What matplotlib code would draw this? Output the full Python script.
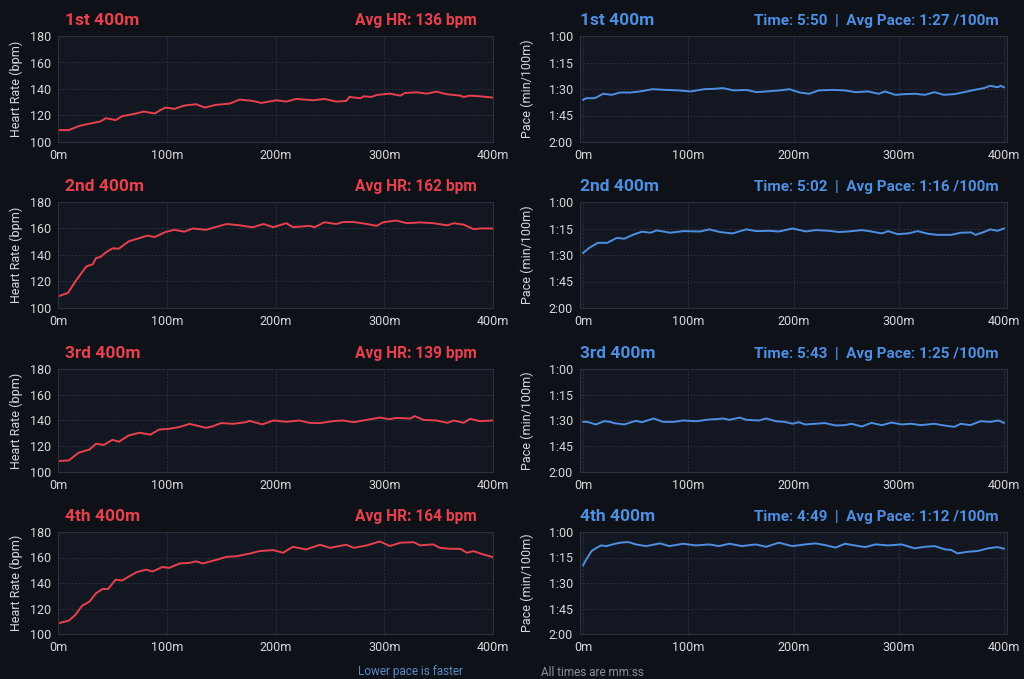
import matplotlib
matplotlib.use("Agg")
import matplotlib.pyplot as plt
from matplotlib.ticker import FuncFormatter

# heart rate (bpm) against distance (m), one pair per 400m rep
hr_dist_1 = [0, 10, 19, 30, 39, 44, 53, 59, 69, 79, 89, 95, 99, 107, 116, 127, 135, 145, 158, 167, 179, 187, 201, 210,
             219, 235, 245, 256, 265, 268, 278, 281, 288, 293, 305, 315, 319, 330, 339, 348, 358, 370, 373, 379, 388, 400]
hr_1 = [109, 109, 112, 114, 115.5, 118, 116.5, 119.5, 121, 123, 121.5, 124.5, 126, 125, 127.5, 128.5, 126, 128, 129,
        132, 131, 129.5, 131.5, 130.5, 132.5, 131.5, 132.5, 130.5, 131, 134, 133, 134.5, 134, 135.5, 136.5, 135, 137,
        137.5, 136.5, 138, 136, 135, 134, 135, 134.5, 133.5]

hr_dist_2 = [0, 9, 16, 26, 32, 35, 39, 44, 50, 56, 65, 75, 82, 89, 99, 107, 116, 124, 136, 142, 155, 167, 179, 189,
             198, 210, 216, 231, 236, 245, 256, 262, 272, 284, 293, 299, 311, 321, 333, 345, 358, 364, 373, 382, 391, 400]
hr_2 = [108.8, 111.3, 120, 131.4, 133, 137.7, 138.5, 142, 145, 144.8, 150.3, 152.8, 154.6, 153.6, 157.4, 159, 157.6,
        160, 159, 160.4, 163.4, 162.4, 160.9, 163.4, 161, 164, 161, 162, 161, 164.7, 163.4, 164.9, 164.9, 163.4, 162,
        164.7, 166, 164, 164.6, 164, 162.4, 164, 162.9, 159.6, 160.1, 160]

hr_dist_3 = [0, 10, 19, 29, 35, 42, 50, 56, 65, 75, 85, 93, 102, 112, 121, 136, 142, 150, 161, 173, 176, 188, 198, 210,
             222, 231, 241, 253, 262, 272, 284, 296, 305, 311, 324, 328, 336, 348, 358, 364, 373, 379, 388, 400]
hr_3 = [108.5, 109, 115, 117.5, 122, 121, 125, 123.5, 128.4, 130.5, 129, 133, 133.5, 135, 137.4, 134.3, 135.4, 138,
        137.4, 138.7, 139.7, 137, 140, 139, 140, 138.2, 138, 139.5, 140, 138.7, 140.5, 142.3, 141, 142, 141.5, 143.4,
        140.5, 140, 138.2, 140, 138.2, 141.3, 139.5, 140]

hr_dist_4 = [0, 10, 16, 22, 29, 35, 41, 46, 53, 59, 72, 81, 87, 96, 102, 112, 121, 127, 133, 145, 155, 164, 176, 185,
             198, 207, 216, 228, 241, 250, 265, 272, 284, 296, 305, 315, 327, 333, 345, 351, 361, 370, 376, 382, 391, 400]
hr_4 = [108.4, 110.5, 115, 122, 125.5, 132, 135.3, 135.3, 142.6, 142, 148.4, 150.5, 149, 152.6, 151.8, 155.3, 155.8,
        157, 155.3, 158, 160.5, 161, 163, 165, 165.8, 163.7, 168.4, 166.3, 170, 167.6, 170, 167.6, 169.5, 172.6, 169,
        171.6, 172, 169.5, 170.3, 167.6, 166.8, 166.8, 163.7, 165, 162.4, 160.3]

# pace (seconds per 100m) against distance (m)
pace_dist_1 = [0, 3, 11, 19, 27, 35, 45, 54, 66, 79, 91, 102, 115, 124, 133, 143, 155, 165, 174, 187, 196, 206, 215,
               224, 237, 249, 259, 271, 281, 287, 297, 306, 315, 325, 334, 343, 353, 362, 372, 381, 387, 394, 397, 400]
pace_1 = [96.1, 95.2, 95.2, 92.7, 93.3, 92, 92, 91.4, 90.1, 90.5, 90.8, 91.4, 90.1, 89.9, 89.5, 90.8, 90.5, 91.8, 91.4,
          90.8, 90.1, 92, 92.7, 90.8, 90.5, 90.8, 91.8, 91.4, 92.7, 91.4, 93.3, 92.9, 92.7, 93.3, 91.8, 93.3, 92.9,
          91.8, 90.5, 89.5, 88.2, 89, 88.2, 89]

pace_dist_2 = [0, 6, 14, 23, 32, 39, 48, 56, 64, 70, 83, 95, 111, 120, 130, 142, 155, 165, 177, 186, 199, 212, 221,
               234, 243, 252, 265, 274, 284, 290, 299, 309, 318, 328, 337, 350, 359, 369, 373, 381, 387, 394, 400]
pace_2 = [88.8, 85.9, 83.1, 83.1, 80.3, 80.8, 78.4, 76.8, 77.4, 76.1, 77.4, 76.5, 76.7, 75.5, 77, 77.8, 75.5, 76.5,
          76.3, 76.7, 75, 76.7, 75.9, 76.3, 77, 76.7, 75.9, 76.7, 77.8, 76.5, 78.2, 77.8, 76.5, 78, 78.6, 78.6, 77.4,
          77.2, 78.6, 77, 75.5, 76.3, 75]

pace_dist_3 = [0, 4, 12, 20, 26, 29, 39, 50, 56, 67, 76, 86, 95, 108, 120, 127, 133, 139, 149, 155, 167, 174, 183,
               192, 199, 205, 211, 221, 230, 240, 249, 255, 265, 274, 284, 293, 303, 312, 321, 334, 343, 353, 359, 368,
               378, 387, 395, 400]
pace_3 = [90.8, 90.8, 92.3, 90.4, 90.8, 91.5, 92.3, 90.2, 91, 88.8, 90.8, 90.8, 90, 90.4, 89.4, 89.2, 88.8, 89.6,
          88.3, 89.6, 90, 88.8, 90.4, 90.8, 91.9, 91, 92.3, 91.9, 91.5, 92.9, 92.7, 91.9, 93.5, 91.4, 92.7, 91.2, 92.3,
          91.9, 92.7, 91.9, 92.9, 93.7, 91.9, 92.7, 90.4, 90.8, 90, 91.4]

pace_dist_4 = [0, 3, 8, 13, 17, 22, 28, 35, 43, 50, 60, 73, 82, 95, 107, 120, 129, 139, 151, 164, 174, 186, 199, 211,
               221, 230, 240, 249, 262, 268, 278, 290, 303, 315, 325, 334, 344, 350, 356, 366, 375, 385, 394, 400]
pace_4 = [79.5, 76.1, 71.2, 69.2, 67.9, 68.3, 67.3, 66.3, 65.9, 67.3, 68.3, 66.7, 68.3, 66.9, 67.9, 67.3, 68.3, 66.9,
          68.3, 67.3, 68.7, 66.3, 68.3, 67.3, 66.7, 67.7, 69.2, 66.9, 68.3, 68.9, 67.3, 67.9, 67.3, 69.6, 68.7, 68.3,
          70.2, 70.6, 72.6, 71.6, 71.2, 69.6, 68.9, 69.8]

rep_names = ["1st 400m", "2nd 400m", "3rd 400m", "4th 400m"]
avg_hr = [136, 162, 139, 164]
rep_times = ["5:50", "5:02", "5:43", "4:49"]
avg_paces = ["1:27", "1:16", "1:25", "1:12"]

hr_ticks = [100, 120, 140, 160, 180]
pace_ticks = [60, 75, 90, 105, 120]
dist_ticks = [0, 100, 200, 300, 400]

BG = "#0e1117"
FACE = "#131722"
RED = "#e8414d"
BLUE = "#4d8fe3"
TEXT = "#d6d8dc"


def mmss(value, pos=None):
  return f"{int(value // 60)}:{int(round(value % 60)):02d}"


def style_axes(axes):
  axes.set_facecolor(FACE)
  for spine in axes.spines.values():
    spine.set_color("#2b303a")
    spine.set_linewidth(0.8)
  axes.grid(True, color="#3a404c", linestyle=(0, (2, 2)), linewidth=0.6, alpha=0.8)
  axes.tick_params(colors=TEXT, labelsize=9, length=0, pad=5)
  axes.set_xticks(dist_ticks)
  axes.set_xticklabels([f"{d}m" for d in dist_ticks])


def main():
  plt.rcParams["font.family"] = ["Roboto", "DejaVu Sans"]
  figure = plt.figure(figsize=(10.24, 6.79), dpi=100, facecolor=BG)
  W, H = 1024, 679

  hr_series = [(hr_dist_1, hr_1), (hr_dist_2, hr_2), (hr_dist_3, hr_3), (hr_dist_4, hr_4)]
  pace_series = [(pace_dist_1, pace_1), (pace_dist_2, pace_2), (pace_dist_3, pace_3), (pace_dist_4, pace_4)]
  rows = [(36, 142), (202, 308), (369, 472), (532, 634)]

  for i, (top, bottom) in enumerate(rows):
    # heart rate panel
    ax_hr = figure.add_axes([58 / W, 1 - bottom / H, 435 / W, (bottom - top) / H])
    style_axes(ax_hr)
    ax_hr.plot(hr_series[i][0], hr_series[i][1], color=RED, linewidth=1.4)
    ax_hr.set_xlim(0, 400)
    ax_hr.set_ylim(100, 180)
    ax_hr.set_yticks(hr_ticks)
    ax_hr.set_ylabel("Heart Rate (bpm)", color=TEXT, fontsize=9)
    ax_hr.yaxis.set_label_coords(-0.08, 0.5)
    ax_hr.annotate(rep_names[i], xy=(0, 1), xycoords="axes fraction", xytext=(5, 11),
                   textcoords="offset points", ha="left", va="center",
                   color=RED, fontsize=12.5, fontweight="bold")
    ax_hr.annotate(f"Avg HR: {avg_hr[i]} bpm", xy=(1, 1), xycoords="axes fraction", xytext=(-12, 11),
                   textcoords="offset points", ha="right", va="center",
                   color=RED, fontsize=11.2, fontweight="bold")

    # pace panel
    ax_pace = figure.add_axes([580 / W, 1 - bottom / H, 427 / W, (bottom - top) / H])
    style_axes(ax_pace)
    ax_pace.plot(pace_series[i][0], pace_series[i][1], color=BLUE, linewidth=1.4)
    ax_pace.set_xlim(-3, 403)
    ax_pace.set_ylim(120, 60)
    ax_pace.set_yticks(pace_ticks)
    ax_pace.yaxis.set_major_formatter(FuncFormatter(mmss))
    ax_pace.set_ylabel("Pace (min/100m)", color=TEXT, fontsize=9)
    ax_pace.yaxis.set_label_coords(-0.107, 0.5)
    ax_pace.annotate(rep_names[i], xy=(0, 1), xycoords="axes fraction", xytext=(0, 11),
                     textcoords="offset points", ha="left", va="center",
                     color=BLUE, fontsize=12.5, fontweight="bold")
    ax_pace.annotate(f"Time: {rep_times[i]}  |  Avg Pace: {avg_paces[i]} /100m", xy=(1, 1),
                     xycoords="axes fraction", xytext=(-6, 11), textcoords="offset points",
                     ha="right", va="center", color=BLUE, fontsize=11, fontweight="bold")

  figure.text(410 / W, 1 - 671 / H, "Lower pace is faster", ha="center", va="center",
              color="#5a8cc8", fontsize=8.5)
  figure.text(541 / W, 1 - 672 / H, "All times are mm:ss", ha="left", va="center",
              color="#8b9099", fontsize=8.5)

  plt.savefig("out.png", dpi=100, facecolor=BG)
  plt.close()


if __name__ == "__main__":
  main()
